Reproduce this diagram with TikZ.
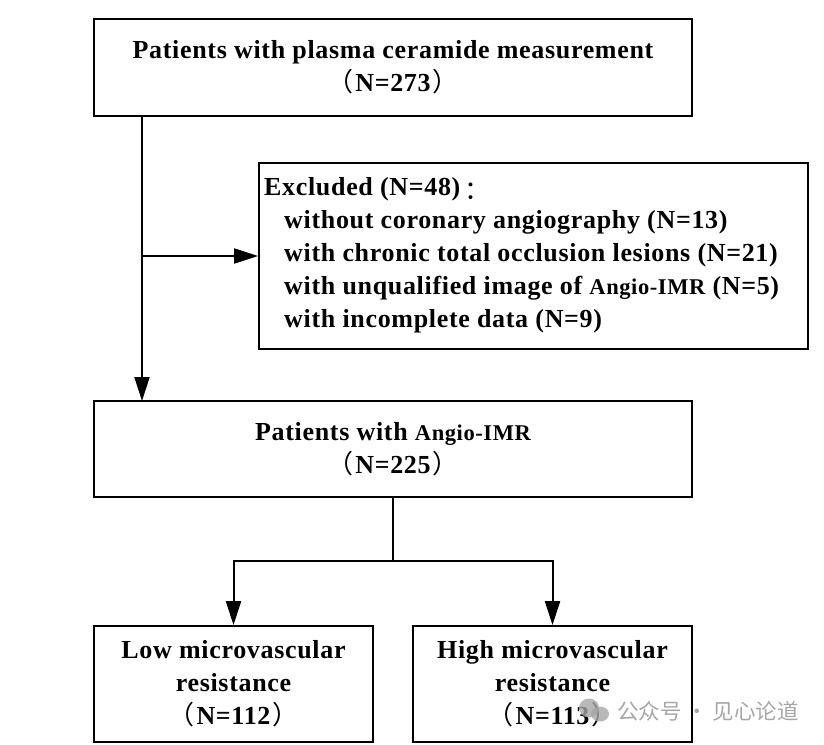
\documentclass[tikz,border=0pt]{standalone}
\usepackage{fontspec}
\setmainfont[LetterSpace=2.6]{Liberation Serif}
\newfontfamily\cjkfont{Noto Sans CJK SC}
\usepackage{tikz}
\usetikzlibrary{arrows.meta, positioning}
\definecolor{colorMark}{HTML}{A6A6A6}
\newcommand{\openp}{{\cjkfont\mdseries （}\hspace{2pt}}
\newcommand{\closep}{\hspace{2pt}{\cjkfont\mdseries ）}}
\newcommand{\imr}{{\fontsize{22.5}{33}\selectfont Angio-IMR}}
\tikzset{
    flowbox/.style={draw,line width=1.8pt,inner sep=0pt,align=center,font=\fontsize{26}{33}\selectfont\bfseries},
    reasontext/.style={inner sep=0pt,align=left,font=\fontsize{26}{33}\selectfont\bfseries},
    flowline/.style={line width=2pt},
    flowarrow/.style={line width=2pt,-{Triangle[length=24pt,width=15pt]}},
    markfont/.style={text=colorMark,inner sep=0pt,font=\fontsize{21.5}{24}\selectfont\cjkfont}
}

\begin{document}
\begin{tikzpicture}[x=1pt,y=-1pt]
        \useasboundingbox (0,0) rectangle (824,744);
        \node[flowbox,minimum width=598pt,minimum height=97pt] (top) at (393,67.5) {Patients with plasma ceramide measurement\\\openp N=273\closep};
        \node[flowbox,minimum width=549pt,minimum height=186pt] (excluded) at (533.5,256) {};
        \node[reasontext,anchor=north west] (reasons) at (264,177.5) {Excluded (N=48)\,\raisebox{-4pt}{\cjkfont\mdseries ：}\\
            \hspace*{20pt}without coronary angiography (N=13)\\
            \hspace*{20pt}with chronic total occlusion lesions (N=21)\\
            \hspace*{20pt}with unqualified image of \imr{} (N=5)\\
            \hspace*{20pt}with incomplete data (N=9)};
        \node[flowbox,minimum width=598pt,minimum height=96pt] (middle) at (393,449) {Patients with \imr\\\openp N=225\closep};
        \node[flowbox,minimum width=279pt,minimum height=116pt] (low) at (233.5,684) {Low microvascular\\resistance\\\openp N=112\closep};
        \node[flowbox,minimum width=279pt,minimum height=116pt] (high) at (552.5,684) {High microvascular\\resistance\\\openp N=113\closep};

        % branch points on the two trunks
        \coordinate (leftstart) at (142,116);
        \coordinate (leftend) at (142,401);
        \coordinate (sidebranch) at (142,256);
        \coordinate (split) at (393,561);

        \draw[flowarrow] (leftstart) -- (leftend);
        \draw[flowarrow] (sidebranch) -- (excluded.west);
        \draw[flowline] (middle.south) -- (split);
        \draw[flowarrow] (split) -| (low.north);
        \draw[flowarrow] (split) -| (high.north);

        % chat bubbles and account name
        \fill[colorMark,opacity=0.8] (589,708) ellipse (10pt and 9.5pt);
        \fill[colorMark,opacity=0.8] (600,714) ellipse (9pt and 7.5pt);
        \node[markfont,anchor=west] (account) at (617,711) {公众号 · 见心论道};
    \end{tikzpicture}
\end{document}
